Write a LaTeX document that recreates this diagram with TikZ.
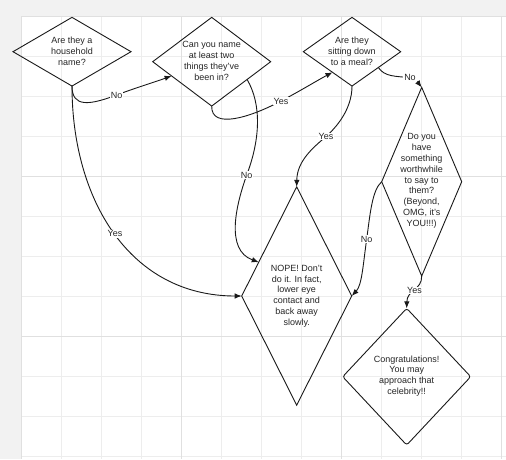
\documentclass[tikz,border=0pt]{standalone}
\usepackage{fontspec}
\setmainfont{Liberation Sans}
\usetikzlibrary{shapes.geometric,arrows.meta,calc}
\begin{document}
\begin{tikzpicture}[x=1pt,y=-1pt,
  dia/.style={shape=diamond, draw=black!90, line width=0.9pt, inner sep=0pt, outer sep=0pt},
  txt/.style={align=center, font=\fontsize{9}{10.8}\selectfont, inner sep=0pt, text=black!85},
  conn/.style={line width=0.9pt, draw=black!90, -{Latex[length=7pt,width=5.5pt]}},
  lbl/.style={fill=white, inner sep=0.8pt, font=\fontsize{9}{10.8}\selectfont, text=black!85},
  minorgrid/.style={draw=black!7, line width=0.6pt},
  majorgrid/.style={draw=black!12, line width=0.6pt}]
\useasboundingbox (0,0) rectangle (506,459);
% background and grid
\fill[black!5] (0,0) rectangle (506,459);
\fill[white] (21,16) rectangle (506,459);
\foreach \x in {61,101,141,221,261,301,381,421,461} \draw[minorgrid] (\x,16) -- (\x,459);
\foreach \y in {56,96,136,216,256,296,376,416,456} \draw[minorgrid] (21,\y) -- (506,\y);
\foreach \x in {21,181,341,501} \draw[majorgrid] (\x,16) -- (\x,459);
\foreach \y in {16,176,336} \draw[majorgrid] (21,\y) -- (506,\y);
% diamonds
\node[dia, minimum width=118pt, minimum height=68.7pt] (d1) at (72,51.7) {};
\node[txt] (t1) at (72,51) {Are they a\\household\\name?};
\node[dia, minimum width=118pt, minimum height=88.7pt] (d2) at (211.7,61.7) {};
\node[txt] (t2) at (211.7,61) {Can you name\\at least two\\things they've\\been in?};
\node[dia, minimum width=97.4pt, minimum height=68.7pt] (d3) at (352,51.7) {};
\node[txt] (t3) at (352,51) {Are they\\sitting down\\to a meal?};
\node[dia, minimum width=80pt, minimum height=188.7pt] (d4) at (421.7,181.7) {};
\node[txt] (t4) at (421.7,181) {Do you\\have\\something\\worthwhile\\to say to\\them?\\(Beyond,\\OMG, it's\\YOU!!!)};
\node[dia, minimum width=110pt, minimum height=218.3pt] (d5) at (296.7,296) {};
\node[txt] (t5) at (296.7,296) {NOPE! Don't\\do it. In fact,\\lower eye\\contact and\\back away\\slowly.};
\node[dia, rounded corners=2.5pt, minimum width=128pt, minimum height=136.7pt] (d6) at (406.7,376.7) {};
\node[txt] (t6) at (406.7,376) {Congratulations!\\You may\\approach that\\celebrity!!};
% edge points
\coordinate (c1e) at ($(d2.west)!0.32!(d2.south)$);
\coordinate (c3e) at ($(d3.west)!0.6!(d3.south)$);
\coordinate (c4s) at ($(d2.east)!0.4!(d2.south)$);
\coordinate (c4e) at ($(d5.north)!0.69!(d5.west)$);
\coordinate (c6s) at ($(d3.east)!0.46!(d3.south)$);
% connectors
\draw[conn] (d1.south) .. controls (72,108) and (90,105) .. (116.7,95) node[lbl] (l1) {No}
  .. controls (135,88) and (155,82) .. (c1e);
\draw[conn] (d1.south) .. controls (72,200) and (130,296) .. (d5.west) node[lbl,pos=0.5] (l2) {Yes};
\draw[conn] (d2.south) .. controls (211,130) and (251,117) .. (281,101) node[lbl] (l3) {Yes}
  .. controls (301,90.5) and (318,80) .. (c3e);
\draw[conn] (c4s) .. controls (262,105) and (260,140) .. (246.7,175) node[lbl] (l4) {No}
  .. controls (236,205) and (225,250) .. (c4e);
\draw[conn] (d3.south) .. controls (352,110) and (335.3,128.3) .. (326,136.5) node[lbl] (l5) {Yes}
  .. controls (315,146.2) and (297,160) .. (d5.north);
\draw[conn] (c6s) .. controls (385,77) and (395,76) .. (410,77.7) node[lbl] (l6) {No}
  .. controls (413,78) and (416,80) .. (d4.north);
\draw[conn] (d4.west) .. controls (372,190) and (370,215) .. (366.7,239) node[lbl] (l7) {No}
  .. controls (363,265) and (362,285) .. (d5.east);
\draw[conn] (d4.south) .. controls (422,290) and (407,290) .. (d6.north) node[lbl,pos=0.5] (l8) {Yes};
\end{tikzpicture}
\end{document}
